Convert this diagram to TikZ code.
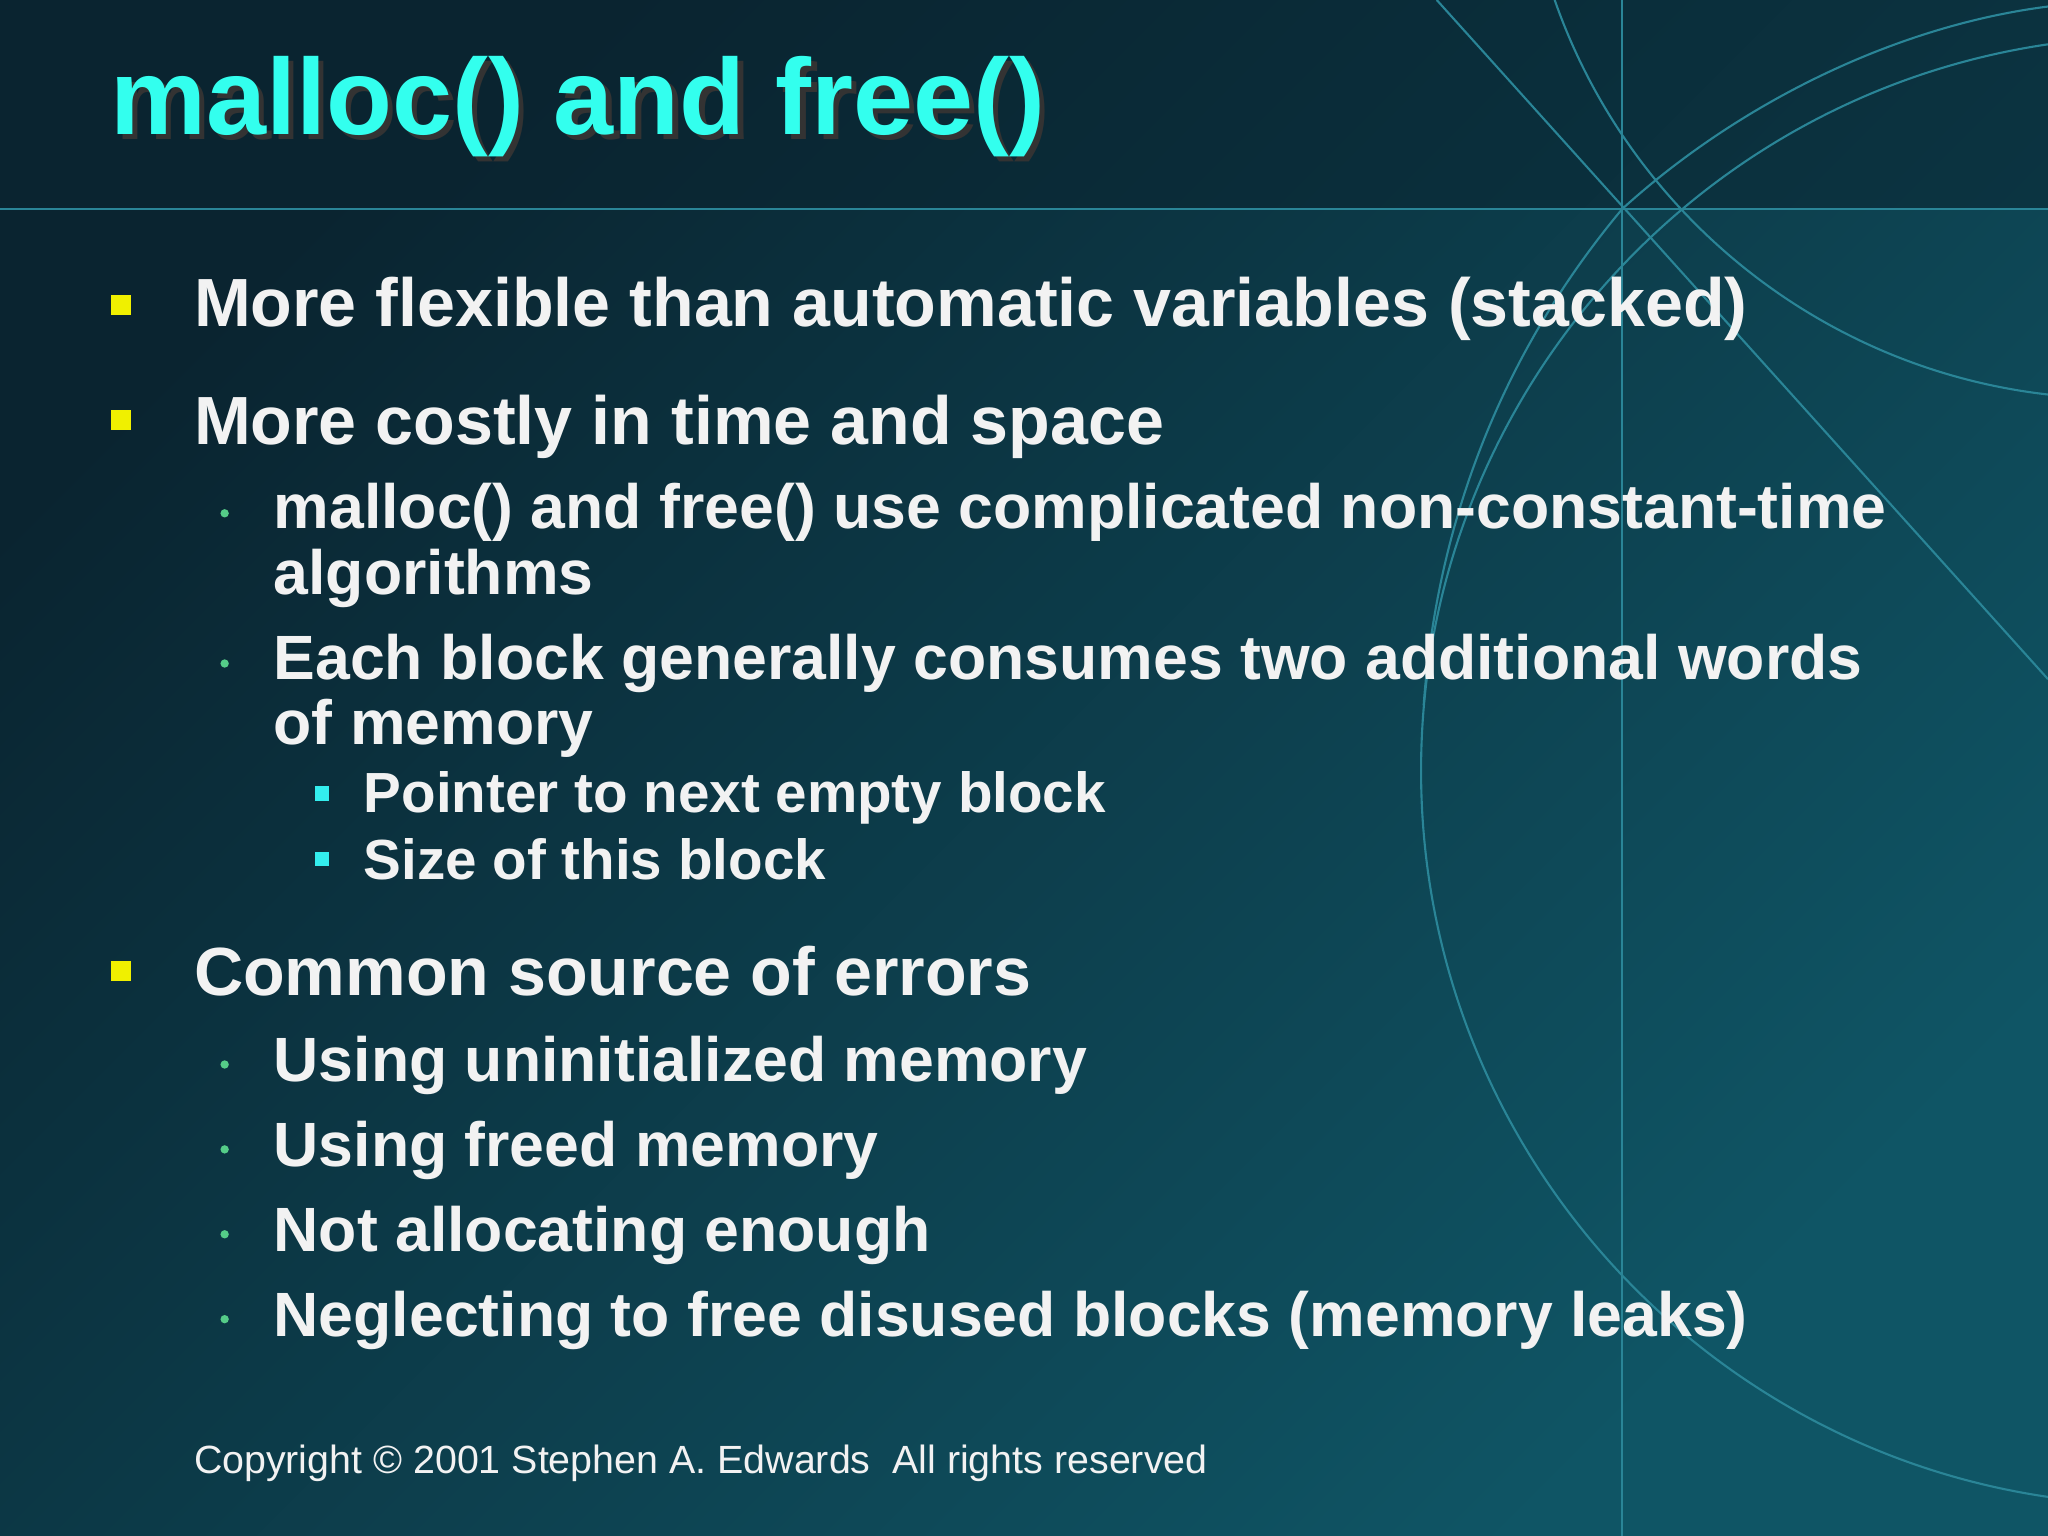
\documentclass[tikz,border=0pt]{standalone}
\usepackage{fontspec}
\setmainfont{Liberation Sans}
\begin{document}
\begin{tikzpicture}[x=0.013061cm,y=-0.013061cm]
\definecolor{bgA}{HTML}{0A2430}
\definecolor{bgB}{HTML}{0F5565}
\definecolor{deco}{HTML}{2A8597}
\definecolor{titlec}{HTML}{33FFEE}
\definecolor{txt}{HTML}{F2F2F2}
\definecolor{yb}{HTML}{F0F000}
\definecolor{gb}{HTML}{55CC88}
\definecolor{cb}{HTML}{33EEEE}
\tikzset{
 l1/.style={anchor=base west,text=txt,font=\bfseries\fontsize{19.4}{23}\selectfont,inner sep=0},
 l2/.style={anchor=base west,text=txt,font=\bfseries\fontsize{17.8}{21}\selectfont,inner sep=0},
 l3/.style={anchor=base west,text=txt,font=\bfseries\fontsize{16.1}{19}\selectfont,inner sep=0},
 decol/.style={draw=deco,line width=0.6pt},
}
\useasboundingbox (0,0) rectangle (1568,1176);
\shade[left color=bgA,right color=bgB,shading angle=45] (0,0) rectangle (1568,1176);
\fill[bgA,opacity=0.5] (0,0) rectangle (1568,160);
% decorations
\begin{scope}
\clip (0,0) rectangle (1568,1176);
\draw[decol] (0,160) -- (1568,160);
\draw[decol] (1242,0) -- (1242,1176);
\draw[decol] (1100,0) -- (1568,520);
\draw[decol] (1650,590) circle (562);
\draw[decol] (1620,-150) circle (455);
\draw[decol] (1242,160) .. controls (1150,270) and (1100,400) .. (1090,540);
\draw[decol] (1242,160) .. controls (1330,80) and (1450,20) .. (1568,5);
\end{scope}
% title
\node[anchor=base west,inner sep=0,text=black!80,font=\bfseries\fontsize{30.7}{34}\selectfont] at (88,107) {malloc() and free()};
\node[anchor=base west,inner sep=0,text=titlec,font=\bfseries\fontsize{30.7}{34}\selectfont] (title) at (84,103) {malloc() and free()};
% level 1
\foreach \y in {233,321,743} \fill[yb] (85,\y-7) rectangle (100,\y+8);
\node[l1] (a1) at (148,250) {More flexible than automatic variables (stacked)};
\node[l1] (a2) at (148,340) {More costly in time and space};
\node[l1] (a3) at (148,762) {Common source of errors};
% level 2
\foreach \y in {393,508,815,880,945,1010} \fill[gb] (172,\y) circle (3.2);
\node[l2] (b1) at (209,405) {malloc() and free() use complicated non-constant-time};
\node[l2] (b1b) at (209,455) {algorithms};
\node[l2] (b2) at (209,520) {Each block generally consumes two additional words};
\node[l2] (b2b) at (209,570) {of memory};
\node[l2] (c1) at (209,828) {Using uninitialized memory};
\node[l2] (c2) at (209,893) {Using freed memory};
\node[l2] (c3) at (209,958) {Not allocating enough};
\node[l2] (c4) at (209,1023) {Neglecting to free disused blocks (memory leaks)};
% level 3
\foreach \y in {607,657} \fill[cb] (241,\y-5) rectangle (252,\y+6);
\node[l3] (d1) at (278,622) {Pointer to next empty block};
\node[l3] (d2) at (278,673) {Size of this block};
\node[anchor=base west,inner sep=0,text=txt,font=\fontsize{11.2}{14}\selectfont] (copy) at (148,1128) {Copyright © 2001 Stephen A. Edwards\ \ All rights reserved};
\end{tikzpicture}
\end{document}
